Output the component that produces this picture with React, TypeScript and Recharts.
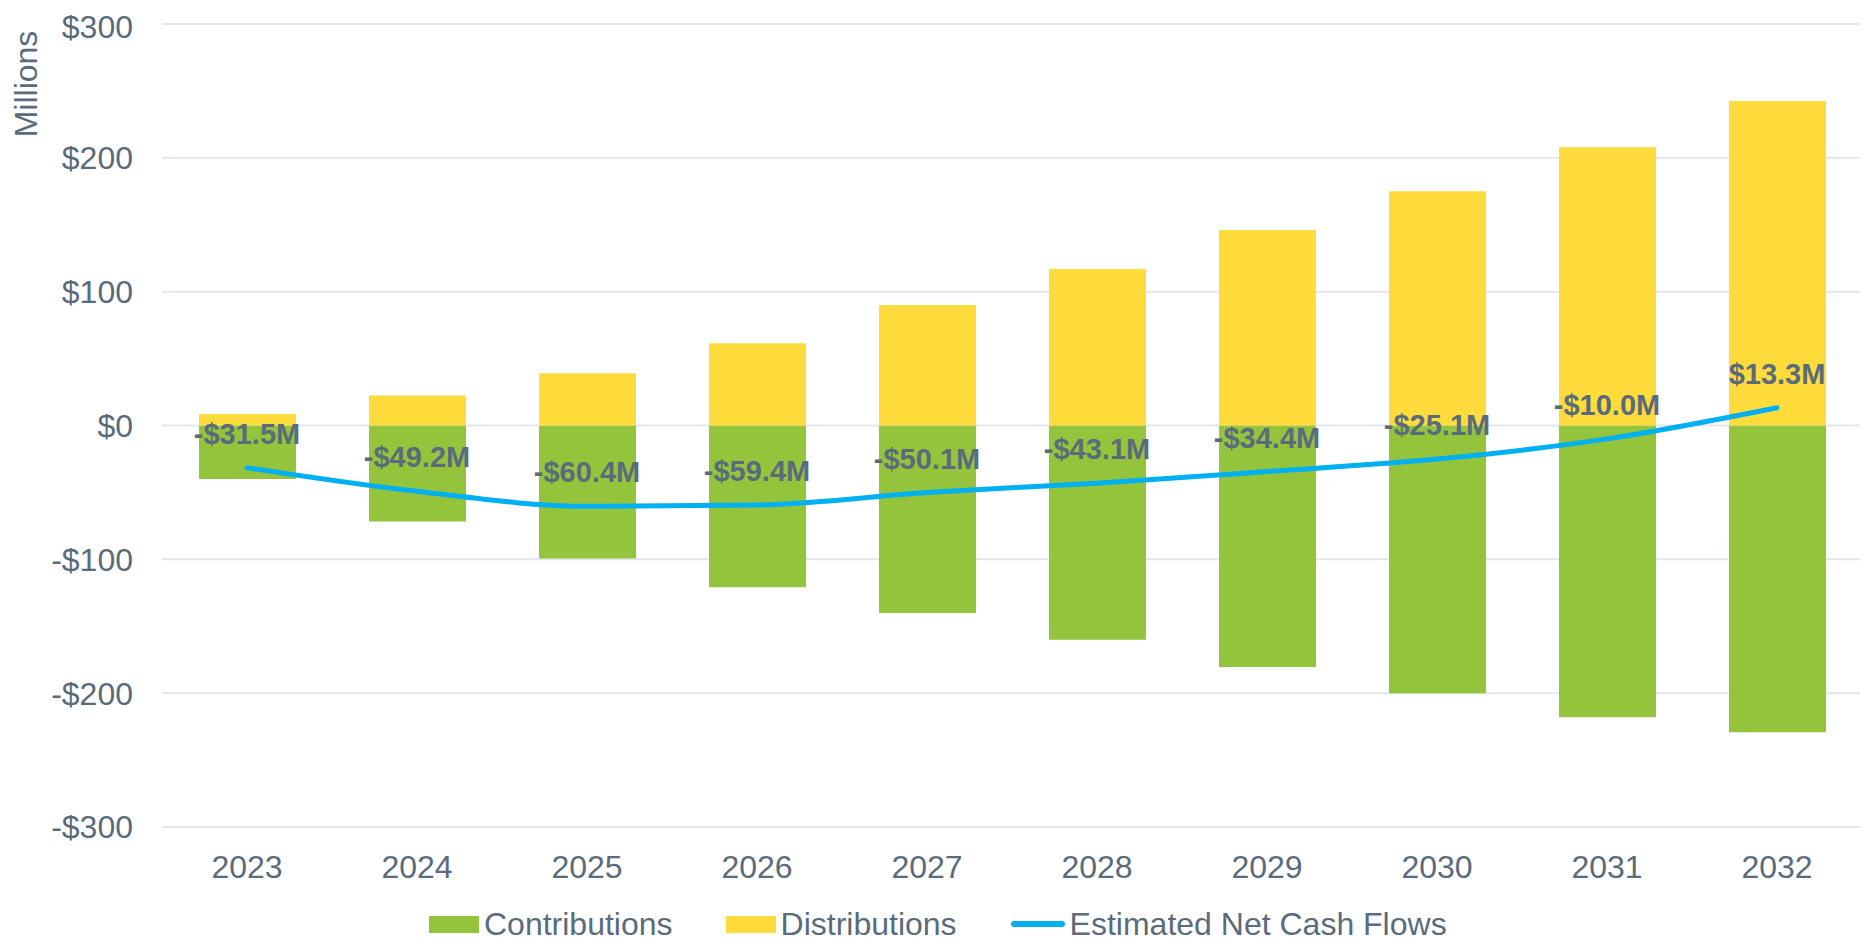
import {
  ComposedChart,
  Bar,
  Line,
  XAxis,
  YAxis,
  CartesianGrid,
  Legend,
  LabelList,
} from "recharts";

const years = ["2023", "2024", "2025", "2026", "2027", "2028", "2029", "2030", "2031", "2032"];
const contributions = [-40, -71.7, -99.4, -120.9, -140.1, -160.1, -180.4, -200.1, -218, -229.2];
const distributions = [8.5, 22.5, 39, 61.5, 90, 117, 146, 175, 208, 242.5];
const netCashFlows = [-31.5, -49.2, -60.4, -59.4, -50.1, -43.1, -34.4, -25.1, -10.0, 13.3];
const yTicks = [-300, -200, -100, 0, 100, 200, 300];

const GREEN = "#94C43C";
const YELLOW = "#FFDC3C";
const BLUE = "#00B0F0";
const TEXT = "#5A6B7B";
const FONT = "Arial, 'Liberation Sans', sans-serif";

const data = years.map((year, i) => ({
  year,
  contributions: contributions[i],
  distributions: distributions[i],
  net: netCashFlows[i],
}));

const money = (v: number) => (v < 0 ? `-$${-v}` : `$${v}`);
const millions = (v: number) => (v < 0 ? `-$${(-v).toFixed(1)}M` : `$${v.toFixed(1)}M`);

const legendItems = [
  { label: "Contributions", color: GREEN, kind: "box" },
  { label: "Distributions", color: YELLOW, kind: "box" },
  { label: "Estimated Net Cash Flows", color: BLUE, kind: "line" },
];

function ChartLegend() {
  return (
    <div
      style={{
        display: "flex",
        justifyContent: "flex-start",
        alignItems: "center",
        paddingLeft: 421,
        height: 30,
        fontFamily: FONT,
        fontSize: 32,
        color: TEXT,
      }}
    >
      {legendItems.map((it, i) => (
        <div
          key={it.label}
          style={{ display: "flex", alignItems: "center", marginRight: i === 0 ? 53 : 54 }}
        >
          {it.kind === "box" ? (
            <span style={{ width: 50, height: 17, background: it.color, marginRight: 5 }} />
          ) : (
            <span
              style={{
                width: 54,
                height: 6,
                borderRadius: 3,
                background: it.color,
                marginRight: 5,
              }}
            />
          )}
          <span style={{ whiteSpace: "nowrap" }}>{it.label}</span>
        </div>
      ))}
    </div>
  );
}

export default function App() {
  return (
    <ComposedChart
      width={1860}
      height={931}
      data={data}
      stackOffset="sign"
      margin={{ top: 16, right: 6, left: 0, bottom: 0 }}
    >
      <CartesianGrid vertical={false} stroke="#E3E6EA" strokeWidth={2} />
      <XAxis
        dataKey="year"
        axisLine={false}
        tickLine={false}
        tickSize={0}
        tickMargin={28}
        height={82}
        tick={{ fill: TEXT, fontSize: 32, fontFamily: FONT }}
      />
      <YAxis
        domain={[-300, 300]}
        ticks={yTicks}
        tickFormatter={money}
        axisLine={false}
        tickLine={false}
        tickSize={0}
        tickMargin={29}
        width={154}
        tick={{ fill: TEXT, fontSize: 32, fontFamily: FONT }}
        label={{
          content: ({ viewBox }: any) => (
            <text
              x={viewBox.x + 18}
              y={viewBox.y + 60}
              transform={`rotate(-90 ${viewBox.x + 18} ${viewBox.y + 60})`}
              textAnchor="middle"
              dominantBaseline="central"
              fill={TEXT}
              fontSize={32}
              fontFamily={FONT}
            >
              Millions
            </text>
          ),
        }}
      />
      <Legend verticalAlign="bottom" content={() => <ChartLegend />} />
      <Bar
        dataKey="contributions"
        name="Contributions"
        stackId="a"
        fill={GREEN}
        barSize={97}
        isAnimationActive={false}
      />
      <Bar
        dataKey="distributions"
        name="Distributions"
        stackId="a"
        fill={YELLOW}
        barSize={97}
        isAnimationActive={false}
      />
      <Line
        type="monotone"
        dataKey="net"
        name="Estimated Net Cash Flows"
        stroke={BLUE}
        strokeWidth={5}
        strokeLinecap="round"
        dot={false}
        activeDot={false}
        isAnimationActive={false}
      >
        <LabelList
          dataKey="net"
          position="top"
          offset={24}
          formatter={(v: any) => millions(Number(v))}
          fill={TEXT}
          fontSize={29}
          fontWeight="bold"
          fontFamily={FONT}
        />
      </Line>
    </ComposedChart>
  );
}
